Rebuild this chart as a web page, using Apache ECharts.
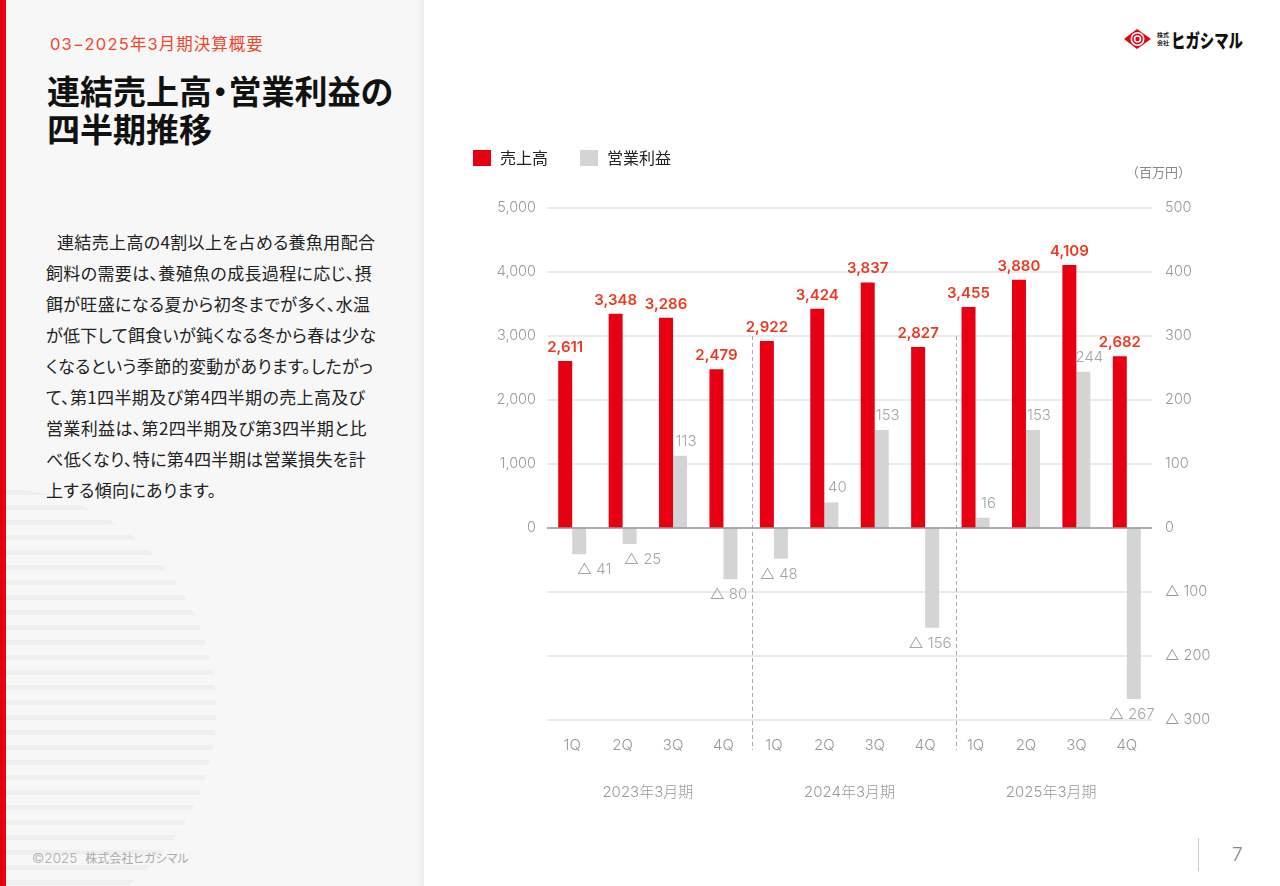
<!DOCTYPE html>
<html lang="ja">
<head>
<meta charset="utf-8">
<title>連結売上高・営業利益の四半期推移</title>
<script src="https://cdn.jsdelivr.net/npm/echarts@6/dist/echarts.min.js"></script>
<style>
  html, body { margin: 0; padding: 0; }
  body { width: 1280px; height: 886px; position: relative; overflow: hidden; background: #ffffff;
         font-family: "Noto Sans CJK JP", "Noto Sans", sans-serif; }
  #panel { position: absolute; left: 0; top: 0; width: 424px; height: 886px; background: #f7f7f7;
           overflow: hidden; box-shadow: inset -7px 0 8px -6px rgba(0,0,0,0.07); }
  #redbar { position: absolute; left: 0; top: 0; width: 6px; height: 886px; background: #e60012; z-index: 3; }
  #stripes { position: absolute; left: -226px; top: 488px; width: 442px; height: 442px; border-radius: 50%;
             background: repeating-linear-gradient(to bottom, transparent 0px, transparent 2px, #efefef 2px, #efefef 7px, transparent 7px, transparent 15px); }
  #sub { position: absolute; left: 50px; top: 31px; font-size: 16.5px; color: #f0462d; letter-spacing: 1px; white-space: nowrap; }
  #sub .n { font-family: "Inter", "Noto Sans CJK JP", sans-serif; letter-spacing: 1.2px; }
  #title { position: absolute; left: 47px; top: 71px; font-size: 33px; font-weight: bold; line-height: 38px; color: #111; white-space: nowrap;
           font-feature-settings: "palt"; }
  #body { position: absolute; left: 46px; top: 226px; font-size: 17px; line-height: 31px; color: #222; white-space: nowrap;
          font-feature-settings: "palt"; letter-spacing: 0.35px; }
  #body .ind { display: inline-block; width: 11px; }
  #foot { position: absolute; left: 32px; top: 849px; font-size: 12px; color: #aaaaaa; white-space: nowrap; font-feature-settings: "palt"; }
  #foot .n { font-family: "Inter", sans-serif; font-size: 13.5px; font-weight: 300; margin-right: 8px; }
  #pgline { position: absolute; left: 1198px; top: 838px; width: 1px; height: 33px; background: #cccccc; }
  #pg { position: absolute; left: 1232px; top: 843px; font-size: 19px; color: #888; font-family: "Inter", sans-serif; font-weight: 300; }
  #logo { position: absolute; left: 1122px; top: 28px; }
  #chart { position: absolute; left: 0; top: 0; width: 1280px; height: 886px; z-index: 5; }
</style>
</head>
<body>
<div id="panel">
  <div id="stripes"></div>
  <div id="sub"><span class="n">03−2025</span>年<span class="n">3</span>月期決算概要</div>
  <div id="title">連結売上高・営業利益の<br>四半期推移</div>
  <div id="body"><span class="ind"></span>連結売上高の4割以上を占める養魚用配合<br>飼料の需要は、養殖魚の成長過程に応じ、摂<br>餌が旺盛になる夏から初冬までが多く、水温<br>が低下して餌食いが鈍くなる冬から春は少な<br>くなるという季節的変動があります。したがっ<br>て、第1四半期及び第4四半期の売上高及び<br>営業利益は、第2四半期及び第3四半期と比<br>べ低くなり、特に第4四半期は営業損失を計<br>上する傾向にあります。</div>
  <div id="foot"><span class="n">©2025</span>株式会社ヒガシマル</div>
</div>
<div id="redbar"></div>
<div id="pgline"></div>
<div id="pg">7</div>
<div id="logo">
  <svg width="124" height="24" viewBox="0 0 124 24">
    <polygon points="2,11 15,1 29,11 15,21" fill="#e60012"/>
    <circle cx="15.5" cy="11" r="7" fill="#fff"/>
    <circle cx="15.5" cy="11" r="5.4" fill="#e60012"/>
    <circle cx="15.5" cy="11" r="3.8" fill="#fff"/>
    <circle cx="15.5" cy="11" r="2.2" fill="#e60012"/>
    <text x="35" y="9" font-size="6" font-weight="bold" fill="#222" font-family="Noto Sans CJK JP">株式</text>
    <text x="35" y="17" font-size="6" font-weight="bold" fill="#222" font-family="Noto Sans CJK JP">会社</text>
    <text x="49" y="19.5" font-size="19" font-weight="900" fill="#111" font-family="Noto Sans CJK JP" textLength="72" lengthAdjust="spacingAndGlyphs">ヒガシマル</text>
  </svg>
</div>
<div id="chart"></div>
<script>
// ---- data ----
const quarters = ["1Q","2Q","3Q","4Q","1Q","2Q","3Q","4Q","1Q","2Q","3Q","4Q"];
const fiscalYears = ["2023年3月期","2024年3月期","2025年3月期"];
const sales = [2611, 3348, 3286, 2479, 2922, 3424, 3837, 2827, 3455, 3880, 4109, 2682];
const operatingProfit = [-41, -25, 113, -80, -48, 40, 153, -156, 16, 153, 244, -267];
const seriesNames = ["売上高", "営業利益"];
const unitLabel = "（百万円）";

const fmt = v => v.toLocaleString("en-US");
const tri = v => "△ " + fmt(-v);

const chart = echarts.init(document.getElementById("chart"), null, { renderer: "canvas" });
const FONT = '"Noto Sans CJK JP", "Noto Sans", sans-serif';
const NUMFONT = '"Inter", "Noto Sans CJK JP", sans-serif';
const labelShift = { 0: [15, 0], 1: [13, 0] };

const opData = operatingProfit.map((v, i) => ({
  value: v,
  label: v >= 0
    ? { position: "top", distance: 7, offset: [6, 0], formatter: String(v) }
    : { position: "bottom", distance: 8, offset: labelShift[i] || [-2, 0], formatter: tri(v) }
}));

const option = {
  backgroundColor: "transparent",
  textStyle: { fontFamily: FONT },
  animation: false,
  legend: {
    left: 473, top: 150, padding: 0, itemWidth: 18, itemHeight: 16, itemGap: 32, icon: "rect",
    textStyle: { fontSize: 16, color: "#222", fontFamily: FONT, padding: [0, 0, 0, 4] },
    data: seriesNames
  },
  graphic: [
    { type: "text", left: 1126, top: 166, style: { text: unitLabel, fill: "#888", font: '13px ' + FONT } }
  ],
  grid: { left: 547, right: 128, top: 208, bottom: 166 },
  xAxis: [
    {
      type: "category", data: quarters, position: "bottom",
      axisLine: { show: false }, axisTick: { show: false },
      axisLabel: { color: "#999", fontSize: 15, margin: 18, fontFamily: NUMFONT, fontWeight: 300 }
    },
    {
      type: "category", data: fiscalYears, position: "bottom", offset: 47,
      axisLine: { show: false }, axisTick: { show: false },
      axisLabel: { color: "#999", fontSize: 15, margin: 18, fontFamily: NUMFONT, fontWeight: 300 }
    }
  ],
  yAxis: [
    {
      type: "value", min: -3000, max: 5000, interval: 1000, position: "left",
      axisLine: { show: false }, axisTick: { show: false },
      splitLine: { lineStyle: { color: "#e4e4e4", width: 1.5 } },
      axisLabel: { color: "#999", fontSize: 14.5, margin: 11, fontFamily: NUMFONT, fontWeight: 300,
                   formatter: v => v < 0 ? "" : fmt(v) }
    },
    {
      type: "value", min: -300, max: 500, interval: 100, position: "right",
      axisLine: { show: false }, axisTick: { show: false }, splitLine: { show: false },
      axisLabel: { color: "#999", fontSize: 14.5, margin: 13, fontFamily: NUMFONT, fontWeight: 300,
                   formatter: v => v < 0 ? tri(v) : fmt(v) }
    }
  ],
  series: [
    {
      name: seriesNames[0], type: "bar", yAxisIndex: 0, xAxisIndex: 0,
      data: sales, barWidth: 14, barGap: "0%",
      itemStyle: { color: "#e60012" },
      label: { show: true, position: "top", distance: 6, color: "#ea3a22", fontSize: 15, fontWeight: 600,
               fontFamily: NUMFONT, formatter: p => fmt(p.value) },
      markLine: {
        silent: true, symbol: "none", label: { show: false },
        lineStyle: { color: "#999", type: "solid", width: 1.5 },
        data: [{ yAxis: 0 }]
      },
      z: 3
    },
    {
      name: seriesNames[1], type: "bar", yAxisIndex: 1, xAxisIndex: 0,
      data: opData, barWidth: 14, barGap: "0%",
      itemStyle: { color: "#d4d4d4" },
      label: { show: true, color: "#a5a5a5", fontSize: 15, fontFamily: NUMFONT, fontWeight: 300 },
      z: 2
    }
  ]
};
chart.setOption(option);

// dashed separators between fiscal years
const sepAfter = [3, 7];
const sepNudge = [3, 6];
const yTop = chart.convertToPixel({ yAxisIndex: 0 }, 3000);
const yBot = chart.convertToPixel({ yAxisIndex: 0 }, -3000) + 30;
const seps = sepAfter.map((idx, k) => {
  const x = (chart.convertToPixel({ xAxisIndex: 0 }, idx) + chart.convertToPixel({ xAxisIndex: 0 }, idx + 1)) / 2 + sepNudge[k];
  return {
    type: "line", z: 1, silent: true,
    shape: { x1: Math.round(x) + 0.5, y1: yTop, x2: Math.round(x) + 0.5, y2: yBot },
    style: { stroke: "#aaaaaa", lineWidth: 1, lineDash: [4, 3] }
  };
});
chart.setOption({ graphic: option.graphic.concat(seps) });
</script>
</body>
</html>
